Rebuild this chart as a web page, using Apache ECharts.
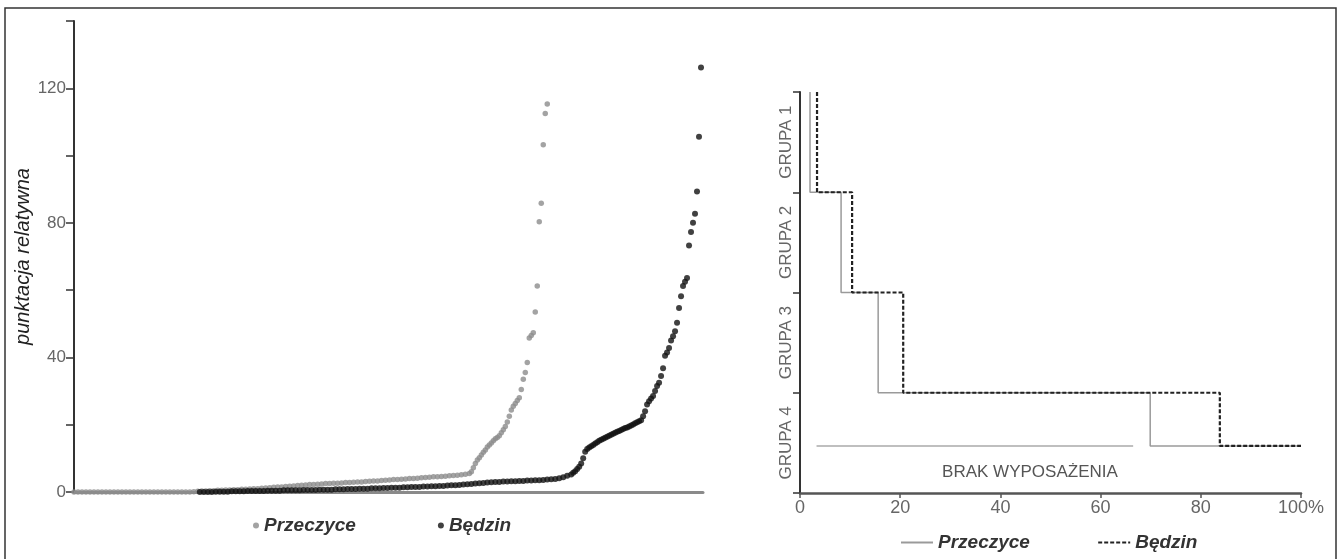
<!DOCTYPE html>
<html><head><meta charset="utf-8">
<script src="https://cdn.jsdelivr.net/npm/echarts@6/dist/echarts.min.js"></script>
<style>html,body{margin:0;padding:0;background:#fff}#c{width:1339px;height:559px}</style>
</head><body><div id="c"></div>
<script>
// Left chart: sorted relative scores, [rank, value]
const przeczyce = [
[0,0],[2,0],[4,0],[6,0],[8,0],[10,0],[12,0],[14,0],[16,0],[18,0],[20,0],[22,0],[24,0],[26,0],[28,0],[30,0],
[32,0],[34,0],[36,0],[38,0],[40,0],[42,0],[44,0],[46,0],[48,0],[50,0],[52,0],[54,0],[56,0],[58,0],
[60,0.1],[62,0.2],[64,0.3],[66,0.3],[68,0.4],[70,0.4],[72,0.5],[74,0.5],[76,0.6],[78,0.6],[80,0.7],[82,0.7],
[84,0.8],[86,0.8],[88,0.9],[90,1.0],[92,1.0],[94,1.1],[96,1.2],[98,1.3],[100,1.4],[102,1.5],[104,1.5],[106,1.6],
[108,1.7],[110,1.8],[112,1.9],[114,2.0],[116,2.1],[118,2.2],[120,2.2],[122,2.3],[124,2.4],[126,2.5],[128,2.5],
[130,2.6],[132,2.6],[134,2.7],[136,2.8],[138,2.8],[140,2.9],[142,3.0],[144,3.0],[146,3.1],[148,3.2],[150,3.3],
[152,3.3],[154,3.4],[156,3.5],[158,3.6],[160,3.7],[162,3.7],[164,3.8],[166,3.9],[168,4.0],[170,4.0],[172,4.1],
[174,4.2],[176,4.3],[178,4.4],[180,4.5],[182,4.5],[184,4.6],[186,4.7],[188,4.8],[190,4.9],[192,5.0],[194,5.1],
[196,5.3],[198,5.5],[199,6.0],[200,7.2],[201,8.5],[202,9.5],[203,10.2],[204,11],[205,11.8],[206,12.5],[207,13.4],
[208,14],[209,14.6],[210,15.2],[211,15.8],[212,16.2],[213,16.7],[214,17.6],[215,18.5],[216,19.5],[217,20.8],
[218,22.5],[219,24.4],[220,25.5],[221,26.3],[222,27.2],[223,28],[224,30.5],[225,33.5],[226,35.5],[227,38.5],
[228,45.8],[229,46.5],[230,47.3],[231,53.5],[232,61.2],[233,80.3],[234,85.8],[235,103.2],[236,112.5],[237,115.3]
];
const bedzin = [
[63,0],[65,0],[67,0],[69,0],[71,0.1],[73,0.1],[75,0.1],[77,0.1],[79,0.2],[81,0.2],[83,0.2],[85,0.2],[87,0.3],
[89,0.3],[91,0.3],[93,0.3],[95,0.3],[97,0.4],[99,0.4],[101,0.4],[103,0.4],[105,0.5],[107,0.5],[109,0.5],[111,0.5],
[113,0.5],[115,0.6],[117,0.6],[119,0.6],[121,0.6],[123,0.7],[125,0.7],[127,0.7],[129,0.7],[131,0.8],[133,0.8],
[135,0.8],[137,0.9],[139,0.9],[141,0.9],[143,1.0],[145,1.0],[147,1.0],[149,1.1],[151,1.1],[153,1.1],[155,1.2],
[157,1.2],[159,1.3],[161,1.3],[163,1.3],[165,1.4],[167,1.4],[169,1.5],[171,1.5],[173,1.5],[175,1.6],[177,1.6],
[179,1.7],[181,1.7],[183,1.8],[185,1.8],[187,1.9],[189,2.0],[191,2.0],[193,2.1],[195,2.2],[197,2.3],[199,2.4],
[201,2.5],[203,2.6],[205,2.7],[207,2.8],[209,2.9],[211,3.0],[213,3.0],[215,3.1],[217,3.1],[219,3.2],[221,3.2],
[223,3.3],[225,3.3],[227,3.4],[229,3.4],[231,3.5],[233,3.5],[235,3.6],[237,3.7],[239,3.8],[241,3.9],[243,4.1],
[245,4.4],[247,4.8],[249,5.2],[250,5.7],[251,6.2],[252,6.8],[253,7.5],[254,8.5],[255,10],[256,12],[257,12.8],
[258,13.2],[259,13.6],[260,14.0],[261,14.4],[262,14.8],[263,15.2],[264,15.5],[265,15.8],[266,16.1],[267,16.4],
[268,16.7],[269,17.0],[270,17.3],[271,17.6],[272,17.9],[273,18.1],[274,18.4],[275,18.7],[276,19.0],[277,19.2],
[278,19.5],[279,19.8],[280,20.1],[281,20.4],[282,20.7],[283,21.0],[284,21.3],[285,22.5],[286,24],[287,26],
[288,27],[289,27.8],[290,28.5],[291,30],[292,31.5],[293,32.5],[294,34.5],[295,36.8],[296,40.5],[297,41.5],
[298,42.8],[299,45],[300,46.3],[301,47.8],[302,50.3],[303,54.7],[304,58.2],[305,61.2],[306,62.5],[307,63.6],
[308,73.3],[309,77.3],[310,80],[311,82.7],[312,89.3],[313,105.6],[314,126.2]
];
const scoreMax = 140;
const scoreTickStep = 20;
const scoreLabelStep = 40;
const rankMax = 315;

// Right chart: percentage at which each group boundary is reached
const groupNames = ['GRUPA 4', 'GRUPA 3', 'GRUPA 2', 'GRUPA 1'];
const levels = [4, 3, 2, 1, 0.47];
const przSteps = [2.0, 8.2, 15.6, 69.9];
const bedSteps = [3.4, 10.4, 20.6, 83.8];
const brakExtent = [3.3, 66.5];
const brakLabel = 'BRAK WYPOSAŻENIA';

function stepPath(steps) {
  const pts = [];
  for (let i = 0; i < steps.length; i++) {
    pts.push([steps[i], levels[i]]);
    pts.push([steps[i], levels[i + 1]]);
  }
  pts.push([100, levels[levels.length - 1]]);
  return pts;
}

const FONT = '"Liberation Sans", Arial, sans-serif';
const chart = echarts.init(document.getElementById('c'), null, {renderer: 'canvas'});
const legendText = {fontFamily: FONT, fontStyle: 'italic', fontWeight: 'bold', fontSize: 19, color: '#333'};

chart.setOption({
  animation: false,
  backgroundColor: '#fff',
  grid: [
    {left: 74, top: 21, width: 629, height: 471},
    {left: 800, top: 92, width: 501, height: 401}
  ],
  xAxis: [
    {gridIndex: 0, type: 'value', min: 0, max: rankMax,
     axisLine: {show: true, lineStyle: {color: '#8a8a8a', width: 3}},
     axisTick: {show: false}, axisLabel: {show: false}, splitLine: {show: false}},
    {gridIndex: 1, type: 'value', min: 0, max: 100, interval: 20,
     axisLine: {show: true, lineStyle: {color: '#555', width: 2.5}},
     axisTick: {show: true, length: 5, lineStyle: {color: '#555', width: 1.5}},
     axisLabel: {color: '#666', fontFamily: FONT, fontSize: 18, margin: 6,
       formatter: v => v === 100 ? '100%' : String(v)},
     splitLine: {show: false}}
  ],
  yAxis: [
    {gridIndex: 0, type: 'value', min: 0, max: scoreMax, interval: scoreTickStep,
     name: 'punktacja relatywna', nameLocation: 'middle', nameRotate: 90, nameGap: 28,
     nameTextStyle: {fontFamily: FONT, fontStyle: 'italic', fontSize: 20, color: '#222'},
     axisLine: {show: true, lineStyle: {color: '#333', width: 2}},
     axisTick: {show: true, length: 8, lineStyle: {color: '#333', width: 1.5}},
     axisLabel: {color: '#666', fontFamily: FONT, fontSize: 17, margin: 8,
       formatter: v => (v % scoreLabelStep === 0 && v < scoreMax) ? String(v) : ''},
     splitLine: {show: false}},
    {gridIndex: 1, type: 'category', data: groupNames, boundaryGap: true,
     axisLine: {show: true, lineStyle: {color: '#333', width: 2}},
     axisTick: {show: true, length: 7, alignWithLabel: false, lineStyle: {color: '#333', width: 1.5}},
     axisLabel: {rotate: 90, color: '#666', fontFamily: FONT, fontSize: 17, margin: 5},
     splitLine: {show: false}},
    {gridIndex: 1, type: 'value', min: 0, max: 4, show: false}
  ],
  legend: [
    {data: ['Przeczyce', 'Będzin'], left: 248, top: 511, itemGap: 82, icon: 'circle',
     itemWidth: 6, itemHeight: 6, textStyle: legendText, selectedMode: false},
    {data: ['Przeczyce ', 'Będzin '], left: 895, top: 528, itemGap: 62,
     itemWidth: 32, itemHeight: 12, itemStyle: {opacity: 0}, textStyle: legendText, selectedMode: false}
  ],
  series: [
    {name: 'Przeczyce', type: 'scatter', xAxisIndex: 0, yAxisIndex: 0, data: przeczyce,
     symbolSize: 5.5, itemStyle: {color: '#8c8c8c'}, z: 3},
    {name: 'Będzin', type: 'scatter', xAxisIndex: 0, yAxisIndex: 0, data: bedzin,
     symbolSize: 6, itemStyle: {color: '#111'}, z: 4},
    {name: 'brak', type: 'line', xAxisIndex: 1, yAxisIndex: 2, symbol: 'none',
     data: [[brakExtent[0], levels[4]], [brakExtent[1], levels[4]]],
     lineStyle: {color: '#aaa', width: 1.5}, z: 2},
    {name: 'Przeczyce ', type: 'line', xAxisIndex: 1, yAxisIndex: 2, symbol: 'none',
     data: stepPath(przSteps), lineStyle: {color: '#9a9a9a', width: 1.5}, itemStyle: {color: '#9a9a9a'}, z: 3},
    {name: 'Będzin ', type: 'line', xAxisIndex: 1, yAxisIndex: 2, symbol: 'none',
     data: stepPath(bedSteps), lineStyle: {color: '#222', width: 2.2, type: [4, 2]}, itemStyle: {color: '#222'}, z: 4}
  ]
});

const tp = chart.convertToPixel({xAxisIndex: 1, yAxisIndex: 2}, [45.9, 0.21]);
chart.setOption({
  graphic: [
    {type: 'rect', shape: {x: 5, y: 8, width: 1331, height: 560}, silent: true, z: 100,
     style: {fill: 'none', stroke: '#333', lineWidth: 1.5}},
    {type: 'text', x: tp[0], y: tp[1], silent: true,
     style: {text: brakLabel, fontFamily: FONT, fontSize: 17, fill: '#555', align: 'center', verticalAlign: 'middle'}}
  ]
});
</script>
</body></html>
